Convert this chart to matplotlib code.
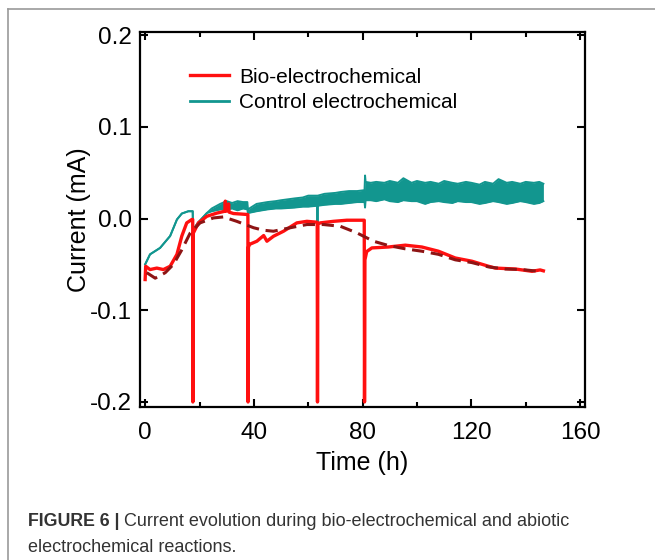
import numpy as np
import matplotlib.pyplot as plt
from matplotlib.lines import Line2D

plt.rcParams['font.family'] = ['Liberation Sans', 'DejaVu Sans']

# bio-electrochemical (red, solid)
bio_t = [0, 0.2, 1.8, 4.3, 6.7, 9.2, 11.7, 13.5, 15.3, 17.2, 17.5, 17.55, 17.7, 19.6,
         22.7, 26.4, 29.3, 29.5, 29.7, 30.5, 30.7, 30.9, 32.5, 35, 37.8, 37.85, 38.0,
         38.5, 41.1, 43.6, 44.8, 47.2, 50.9, 55.8, 59.5, 63.3, 63.4, 63.55, 64.4, 69.3,
         74.2, 80.6, 80.7, 80.85, 81.5, 83.4, 89.5, 95.7, 101.8, 107.9, 114.1, 120.2,
         126.3, 128.8, 136.2, 142.3, 145.3, 146.5]
bio_i = [-0.0665, -0.052, -0.0556, -0.054, -0.0556, -0.052, -0.039, -0.019, -0.0047,
         -0.001, -0.001, -0.2, -0.016, -0.0047, 0.0025, 0.006, 0.008, 0.019, 0.008,
         0.009, 0.016, 0.007, 0.0055, 0.005, 0.0044, -0.2, -0.031, -0.028, -0.0247,
         -0.0185, -0.0247, -0.0193, -0.0138, -0.0047, -0.003, -0.004, -0.2, -0.006,
         -0.0047, -0.003, -0.0018, -0.0018, -0.2, -0.045, -0.036, -0.032, -0.031,
         -0.029, -0.031, -0.0356, -0.043, -0.0465, -0.052, -0.054, -0.055, -0.0575,
         -0.056, -0.057]

# dashed trend of the bio curve
fit_t = [0.6, 3.7, 7.4, 10.4, 13.5, 16.6, 20.2, 25.1, 28.8, 33.7, 39.9, 43.5, 47.2,
         53.4, 59.5, 65.6, 71.8, 77.9, 84.0, 89.5, 95.7, 101.8, 107.9, 114.1, 120.2,
         126.3, 132.5, 138.6, 144.7, 146]
fit_i = [-0.059, -0.065, -0.059, -0.050, -0.034, -0.0156, -0.0047, 0.0007, 0.0018,
         -0.003, -0.010, -0.0127, -0.0138, -0.010, -0.0065, -0.0065, -0.0084, -0.0156,
         -0.0247, -0.0294, -0.033, -0.0356, -0.039, -0.045, -0.048, -0.0527, -0.055,
         -0.0556, -0.0575, -0.057]

# control electrochemical (teal), noisy band read as lower / upper envelope
ctrl_t = [0, 1.8, 5.5, 9.2, 11.7, 13.5, 15.9, 17.5, 17.6, 19.6, 22.7, 24.5, 27.6, 30,
          32, 34, 36, 37.6, 37.8, 41, 45, 48, 50, 55, 58, 60, 63.3, 63.4, 63.5, 66, 70,
          72, 75, 78, 80.7, 80.9, 81.1, 83, 85, 88, 90, 93, 95, 98, 100, 103, 105, 108,
          110, 113, 115, 118, 120, 123, 125, 128, 130, 133, 135, 138, 140, 143, 145, 146.5]
ctrl_lo = [-0.050, -0.039, -0.032, -0.019, -0.001, 0.0055, 0.008, 0.008, -0.012,
           -0.004, 0.006, 0.008, 0.010, 0.010, 0.011, 0.009, 0.011, 0.010, 0.006, 0.008,
           0.010, 0.011, 0.011, 0.012, 0.013, 0.013, 0.014, -0.114, 0.014, 0.015, 0.016,
           0.016, 0.017, 0.018, 0.018, 0.012, 0.020, 0.020, 0.019, 0.021, 0.019, 0.018,
           0.020, 0.019, 0.019, 0.016, 0.018, 0.019, 0.018, 0.017, 0.019, 0.018, 0.018,
           0.016, 0.017, 0.019, 0.018, 0.016, 0.017, 0.019, 0.018, 0.016, 0.017, 0.019]
ctrl_hi = [-0.050, -0.039, -0.032, -0.019, -0.001, 0.0055, 0.008, 0.008, -0.012,
           -0.004, 0.006, 0.011, 0.016, 0.019, 0.017, 0.019, 0.018, 0.018, 0.010, 0.016,
           0.018, 0.019, 0.020, 0.022, 0.023, 0.025, 0.025, 0.025, 0.025, 0.027, 0.028,
           0.029, 0.030, 0.030, 0.031, 0.047, 0.040, 0.039, 0.040, 0.039, 0.041, 0.039,
           0.044, 0.039, 0.041, 0.039, 0.040, 0.038, 0.041, 0.039, 0.038, 0.040, 0.039,
           0.037, 0.040, 0.038, 0.043, 0.039, 0.040, 0.038, 0.040, 0.039, 0.040, 0.038]

red = '#ff1010'
teal = '#12968f'
maroon = '#8e1414'

fig = plt.figure(figsize=(6.55, 5.6), dpi=100)
ax = fig.add_axes([0.2137, 0.2732, 0.6794, 0.6697])

ax.fill_between(ctrl_t, ctrl_lo, ctrl_hi, color=teal, lw=0)
ax.plot(ctrl_t, ctrl_lo, color=teal, lw=1.4)
ax.plot(ctrl_t, ctrl_hi, color=teal, lw=1.4)
ax.plot(bio_t, bio_i, color=red, lw=2.4)
ax.plot(fit_t, fit_i, color=maroon, lw=2.2, dashes=(4, 2.2))

ax.set_xlim(-1.9, 161.8)
ax.set_ylim(-0.2055, 0.2035)
ax.set_xticks([0, 40, 80, 120, 160])
ax.set_xticks([20, 60, 100, 140], minor=True)
ax.set_yticks([-0.2, -0.1, 0.0, 0.1, 0.2])
ax.set_yticklabels(['-0.2', '-0.1', '0.0', '0.1', '0.2'])
ax.tick_params(which='both', direction='in', top=True, right=True, width=1.5,
               labelsize=17.5)
ax.tick_params(axis='x', pad=11)
ax.tick_params(axis='y', pad=6)
ax.tick_params(which='major', length=6)
ax.tick_params(which='minor', length=3.5)
for s in ax.spines.values():
    s.set_linewidth(1.6)

ax.set_xlabel('Time (h)', fontsize=18, labelpad=5)
ax.set_ylabel('Current (mA)', fontsize=18, labelpad=-1)

handles = [Line2D([], [], color=red, lw=2.4), Line2D([], [], color=teal, lw=2.0)]
ax.legend(handles, ['Bio-electrochemical', 'Control electrochemical'],
          loc='upper left', bbox_to_anchor=(0.112, 0.905), frameon=False,
          fontsize=15, handlelength=1.9, handletextpad=0.45, labelspacing=0.32,
          borderpad=0, borderaxespad=0)

# grey frame of the figure panel
fig.add_artist(Line2D([8 / 655, 8 / 655], [0, 1 - 9 / 560], color='#9a9a9a', lw=1.2))
fig.add_artist(Line2D([8 / 655, 1], [1 - 9 / 560, 1 - 9 / 560], color='#9a9a9a', lw=1.2))

# caption
cap = '#333333'
t1 = fig.text(28 / 655, 1 - 521 / 560, 'FIGURE 6 |', fontsize=12.8, fontweight='bold',
              color=cap, va='center')
r = fig.canvas.get_renderer()
bb = t1.get_window_extent(renderer=r)
fig.text((bb.x1 + 5) / 655, 1 - 521 / 560,
         'Current evolution during bio-electrochemical and abiotic',
         fontsize=13, color=cap, va='center')
fig.text(28 / 655, 1 - 547 / 560, 'electrochemical reactions.', fontsize=13,
         color=cap, va='center')

fig.savefig('out.png', dpi=100)
